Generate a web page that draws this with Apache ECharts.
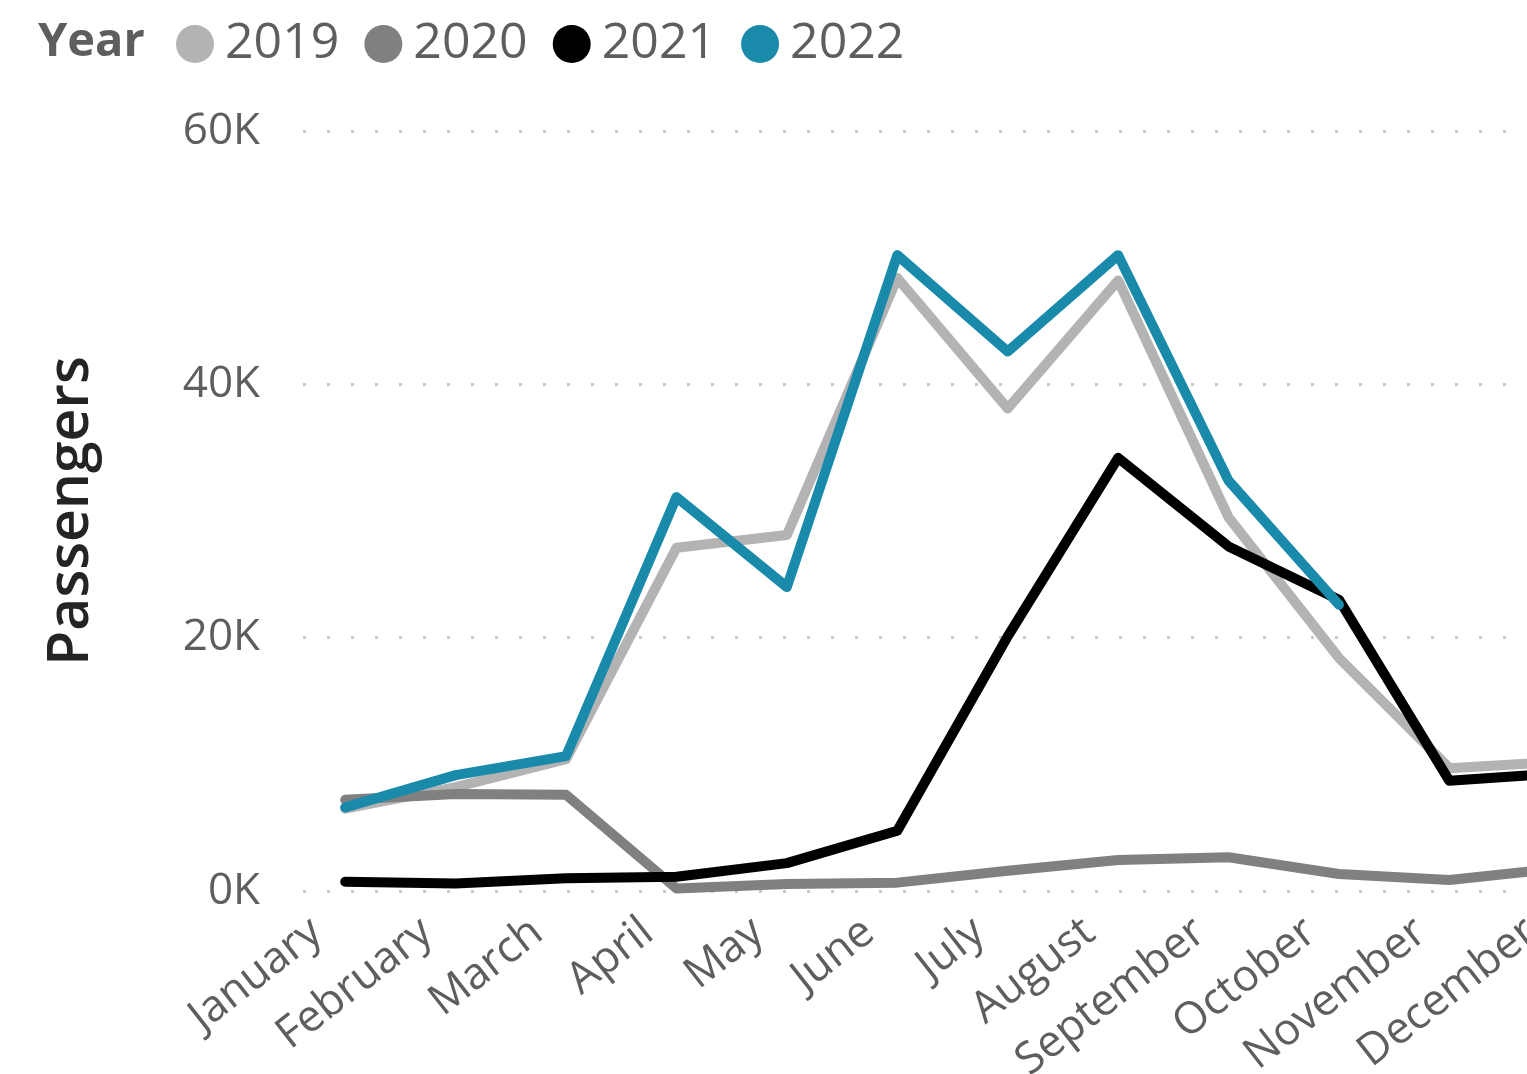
<!DOCTYPE html>
<html>
<head>
<meta charset="utf-8">
<script src="https://cdn.jsdelivr.net/npm/echarts@6/dist/echarts.min.js"></script>
<style>
html,body{margin:0;padding:0;background:#fff;overflow:hidden;width:1527px;height:1074px;}
#chart{width:1700px;height:1074px;}
</style>
</head>
<body>
<div id="chart"></div>
<script>
const months = ['January','February','March','April','May','June','July','August','September','October','November','December'];
const yTicks = [0, 20000, 40000, 60000];
const years = ['2019','2020','2021','2022'];
const colors = ['#B3B3B3','#808080','#000000','#1A8AAB'];
const v2019 = [6500, 8200, 10400, 27100, 28100, 48400, 38100, 48200, 29500, 18400, 9700, 10200];
const v2020 = [7200, 7650, 7600, 200, 550, 660, 1600, 2450, 2660, 1340, 870, 1800];
const v2021 = [730, 600, 1000, 1130, 2200, 4760, 20100, 34200, 27200, 23000, 8700, 9300];
const v2022 = [6600, 9150, 10650, 31100, 24000, 50200, 42600, 50200, 32400, 22600, null, null];
const seriesValues = [v2019, v2020, v2021, v2022];

const font = '"Segoe UI","Open Sans","Noto Sans",sans-serif';
const chart = echarts.init(document.getElementById('chart'), null, {renderer:'canvas'});
chart.setOption({
  animation: false,
  color: colors,
  title: {
    text: 'Year', left: 33, top: 14,
    textStyle: {fontFamily: font, fontSize: 47, fontWeight: 'bold', color: '#605E5C'}
  },
  legend: {
    data: years, left: 171, top: 14, icon: 'circle',
    itemWidth: 38, itemHeight: 38, itemGap: 25,
    textStyle: {fontFamily: font, fontSize: 50, color: '#605E5C', padding: [0,0,0,6]}
  },
  grid: {left: 290, right: 85, top: 131, bottom: 183, containLabel: false, outerBoundsMode: 'none'},
  xAxis: {
    type: 'category', data: months, boundaryGap: true,
    axisLine: {show: false}, axisTick: {show: false},
    axisLabel: {rotate: 38, margin: 14, interval: 0, fontFamily: font, fontSize: 44, color: '#605E5C',
      padding: [0, 36, 0, 0]}
  },
  yAxis: {
    type: 'value', min: yTicks[0], max: yTicks[yTicks.length-1], interval: yTicks[1]-yTicks[0],
    name: 'Passengers', nameLocation: 'middle', nameGap: 190,
    nameTextStyle: {fontFamily: font, fontSize: 57, fontWeight: 600, color: '#252423'},
    axisLine: {show: false}, axisTick: {show: false},
    axisLabel: {margin: 30, fontFamily: font, fontSize: 44, color: '#605E5C',
      formatter: v => (v/1000) + 'K'},
    splitLine: {show: true, lineStyle: {color: '#C8C8C8', width: 3, type: [3, 21], dashOffset: 11}}
  },
  series: years.map((y, i) => ({
    name: y, type: 'line', data: seriesValues[i], symbol: 'none', connectNulls: false,
    lineStyle: {width: 10, color: colors[i], cap: 'round', join: 'round'},
    itemStyle: {color: colors[i]}
  }))
});
</script>
</body>
</html>
